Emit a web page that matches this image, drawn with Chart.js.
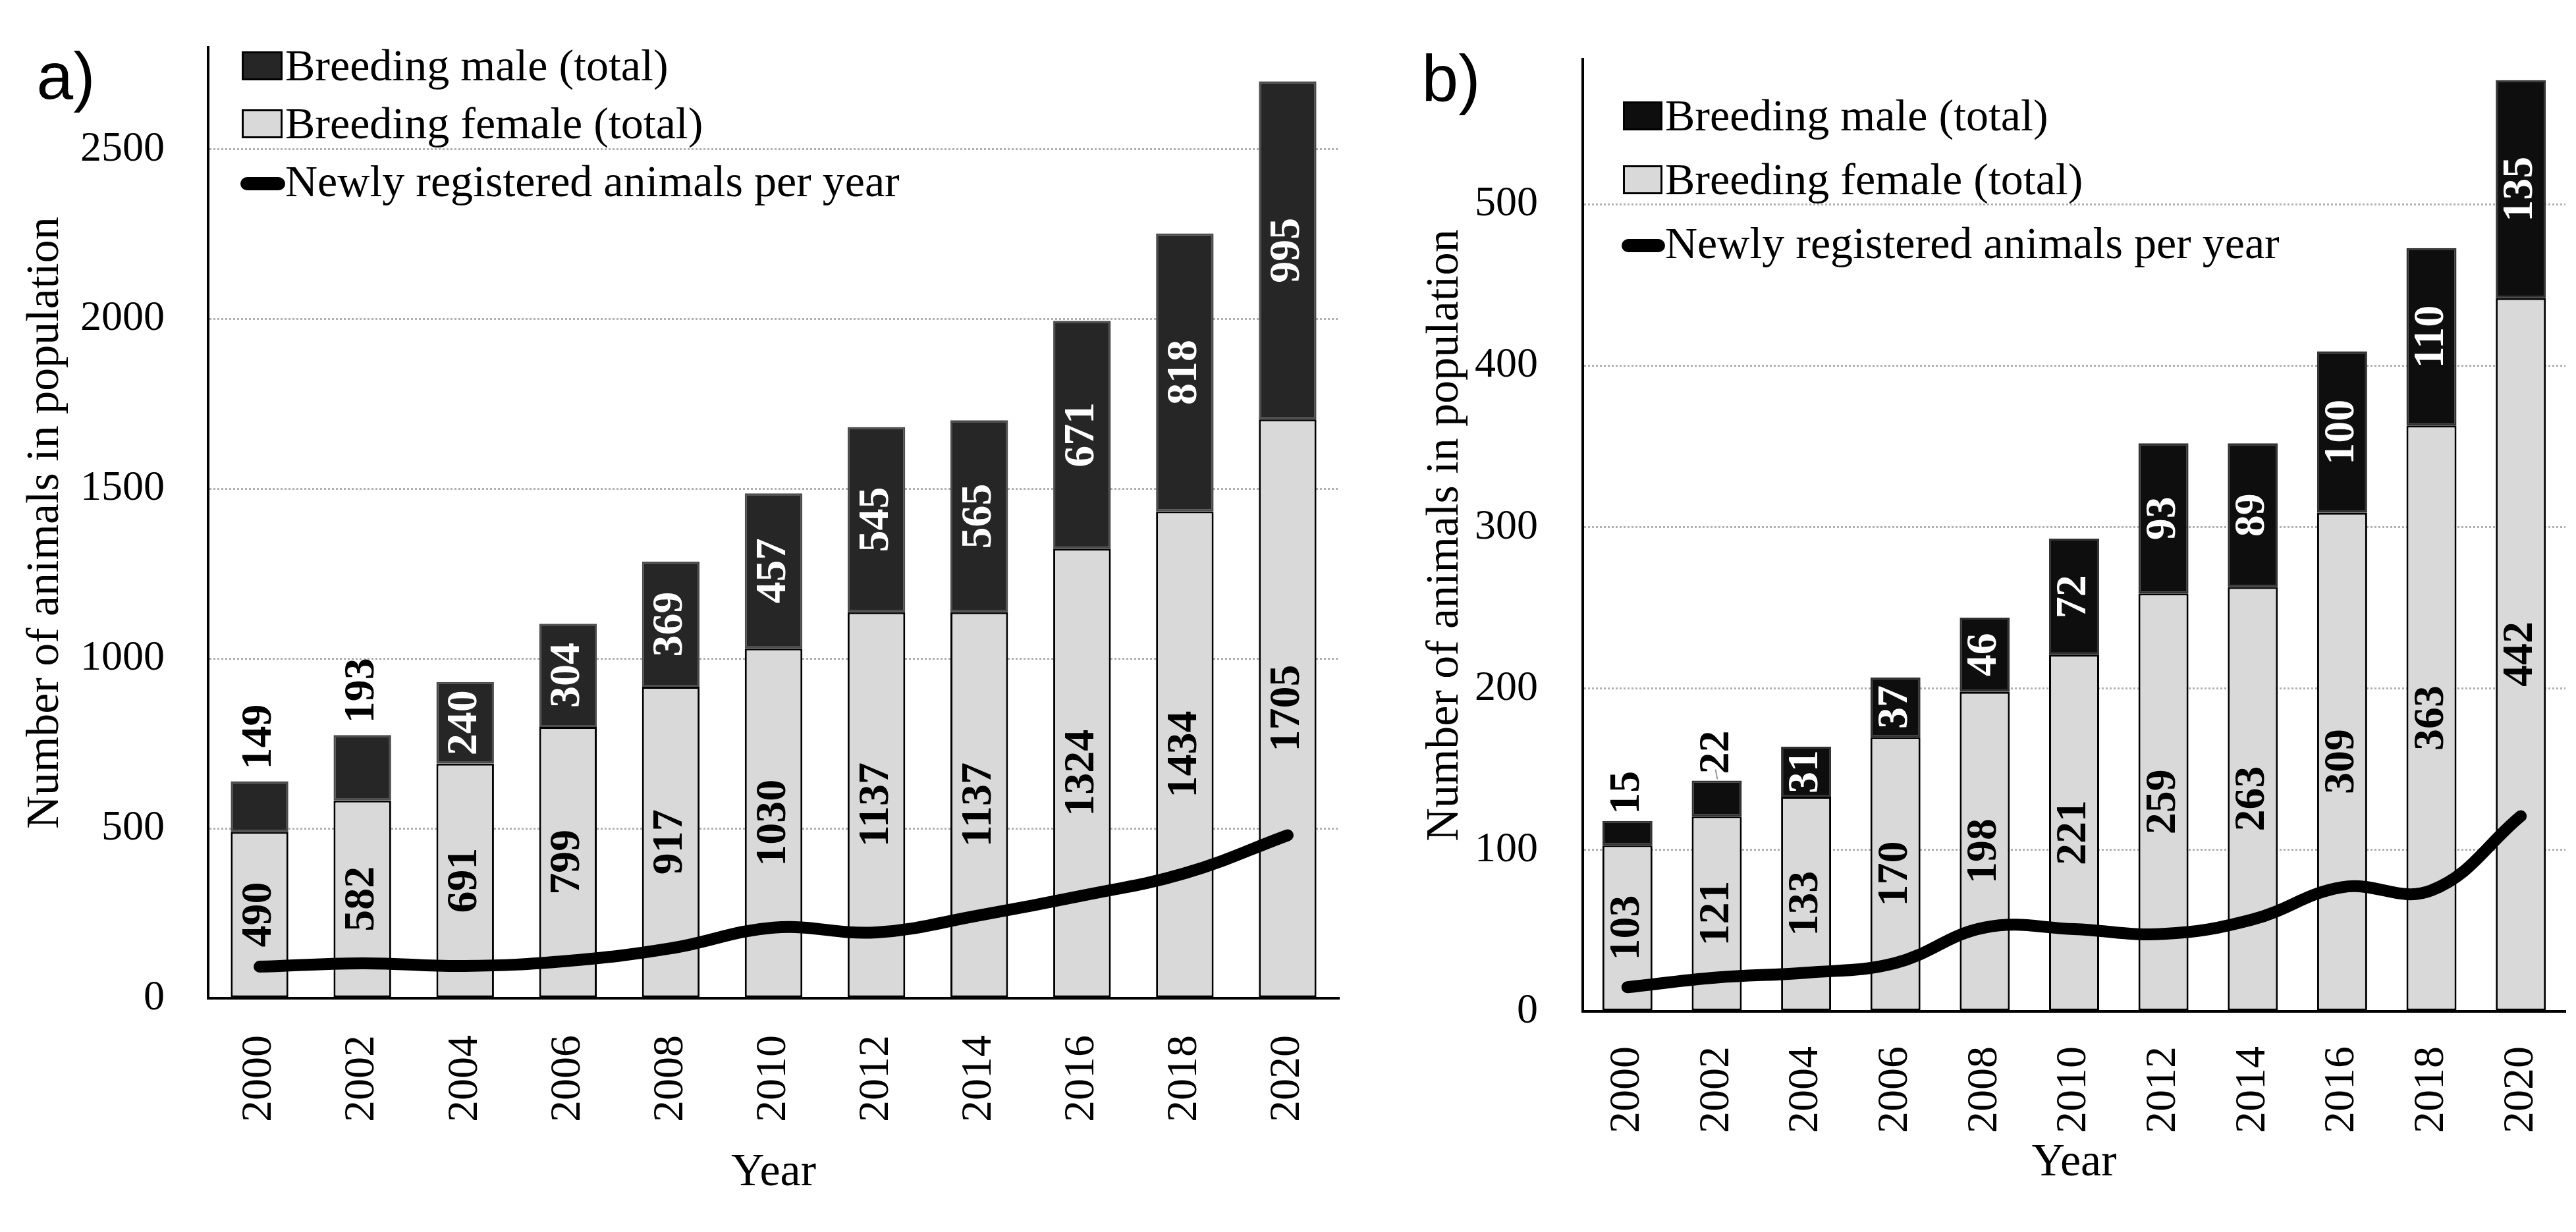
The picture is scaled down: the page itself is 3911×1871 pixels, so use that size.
<!DOCTYPE html>
<html>
<head>
<meta charset="utf-8">
<script src="https://cdn.jsdelivr.net/npm/chart.js@4.4.0/dist/chart.umd.min.js"></script>
<style>
    html, body { margin: 0; padding: 0; background: #fff; }
    body { width: 3911px; height: 1871px; position: relative; overflow: hidden; }
    .panel { position: absolute; top: 0; height: 1871px; }
    #panelA { left: 0; width: 2060px; }
    #panelB { left: 2090px; width: 1821px; }
</style>
</head>
<body>
<div class="panel" id="panelA"><canvas id="chartA"></canvas></div>
<div class="panel" id="panelB"><canvas id="chartB"></canvas></div>
<script>
const years = ['2000', '2002', '2004', '2006', '2008', '2010', '2012', '2014', '2016', '2018', '2020'];

// panel a
const femaleA = [490, 582, 691, 799, 917, 1030, 1137, 1137, 1324, 1434, 1705];
const maleA = [149, 193, 240, 304, 369, 457, 545, 565, 671, 818, 995];
const newA = [93, 103, 95, 110, 147, 208, 194, 244, 302, 368, 480];
const yTicksA = [0, 500, 1000, 1500, 2000, 2500];

// panel b
const femaleB = [103, 121, 133, 170, 198, 221, 259, 263, 309, 363, 442];
const maleB = [15, 22, 31, 37, 46, 72, 93, 89, 100, 110, 135];
const newB = [15, 21, 24, 30, 52, 51, 48, 57, 77, 75, 121];
const yTicksB = [0, 100, 200, 300, 400, 500];

const labelMale = 'Breeding male (total)';
const labelFemale = 'Breeding female (total)';
const labelNew = 'Newly registered animals per year';

Chart.defaults.font.family = '"Liberation Serif", "Times New Roman", serif';
Chart.defaults.color = '#000';

// value labels written sideways on the bars
const barLabels = {
    id: 'barLabels',
    afterDatasetsDraw(chart, args, opts) {
        const ctx = chart.ctx;
        ctx.save();
        ctx.font = opts.font;
        ctx.textBaseline = 'middle';
        chart.data.datasets.forEach((ds, di) => {
            if (ds.type === 'line') return;
            const meta = chart.getDatasetMeta(di);
            meta.data.forEach((bar, i) => {
                const outside = (ds.outside || []).includes(i);
                if ((ds.leader || []).includes(i)) {
                    ctx.strokeStyle = '#999';
                    ctx.lineWidth = 2;
                    ctx.beginPath();
                    ctx.moveTo(bar.x + 1, bar.y - 2);
                    ctx.lineTo(bar.x - 2, bar.y - 17);
                    ctx.stroke();
                }
                ctx.save();
                ctx.translate(bar.x, outside ? bar.y - opts.gap : (bar.y + bar.base) / 2);
                ctx.rotate(-Math.PI / 2);
                ctx.textAlign = outside ? 'left' : 'center';
                ctx.fillStyle = outside ? '#000' : ds.labelColor;
                ctx.fillText(String(ds.data[i]), 0, 0);
                ctx.restore();
            });
        });
        ctx.restore();
    }
};

// legend stacked in the top left of the plot, plus the panel letter
const sideLegend = {
    id: 'sideLegend',
    afterDraw(chart, args, opts) {
        const ctx = chart.ctx;
        ctx.save();
        ctx.font = opts.font;
        ctx.textBaseline = 'alphabetic';
        ctx.textAlign = 'left';
        opts.order.forEach((di, row) => {
            const ds = chart.data.datasets[di];
            const base = opts.top + row * opts.step;
            if (ds.type === 'line') {
                ctx.strokeStyle = ds.borderColor;
                ctx.lineWidth = 20;
                ctx.lineCap = 'round';
                ctx.beginPath();
                ctx.moveTo(opts.x + 8, base - 19);
                ctx.lineTo(opts.x + opts.box - 6, base - 19);
                ctx.stroke();
            } else {
                ctx.fillStyle = ds.backgroundColor;
                ctx.fillRect(opts.x, base - 44, opts.box, 44);
                ctx.strokeStyle = '#000';
                ctx.lineWidth = 3;
                ctx.strokeRect(opts.x + 1.5, base - 42.5, opts.box - 3, 41);
            }
            ctx.fillStyle = '#000';
            ctx.fillText(ds.label, opts.x + opts.box + 4, base);
        });
        ctx.font = opts.panelFont;
        ctx.textAlign = 'center';
        ctx.textBaseline = 'middle';
        ctx.fillText(opts.panel, opts.panelX, opts.panelY);
        ctx.restore();
    }
};

function makeChart(id, cfg) {
    const ctx = document.getElementById(id).getContext('2d');
    return new Chart(ctx, {
        type: 'bar',
        data: {
            labels: years,
            datasets: [{
                label: labelFemale,
                data: cfg.female,
                backgroundColor: '#d9d9d9',
                borderColor: '#000',
                borderWidth: 3,
                borderSkipped: false,
                labelColor: '#000',
                stack: 'pop',
                order: 1,
            }, {
                label: labelMale,
                data: cfg.male,
                backgroundColor: cfg.maleColor,
                borderColor: cfg.maleBorder,
                borderWidth: 3,
                borderSkipped: false,
                labelColor: '#fff',
                outside: [0, 1],
                leader: cfg.leader,
                stack: 'pop',
                order: 1,
            }, {
                type: 'line',
                label: labelNew,
                data: cfg.newReg,
                borderColor: '#000',
                borderWidth: 18,
                borderCapStyle: 'round',
                borderJoinStyle: 'round',
                tension: 0.4,
                pointRadius: 0,
                stack: 'line',
                order: 0,
            }],
        },
        options: {
            responsive: true,
            maintainAspectRatio: false,
            animation: false,
            devicePixelRatio: 1,
            layout: { padding: { top: cfg.top, right: cfg.right, left: 0, bottom: 0 } },
            datasets: { bar: { categoryPercentage: 1, barPercentage: 0.56 } },
            plugins: {
                legend: { display: false },
                tooltip: { enabled: false },
                barLabels: { font: 'bold 66px "Liberation Serif", serif', gap: cfg.gap },
                sideLegend: cfg.legend,
            },
            scales: {
                x: {
                    stacked: true,
                    grid: { display: false },
                    border: { display: true, color: '#000', width: 4 },
                    ticks: { minRotation: 90, maxRotation: 90, padding: cfg.xPad, font: { size: 66 } },
                    title: { display: true, text: 'Year', font: { size: 70 }, padding: { top: 0, bottom: cfg.xTitlePad } },
                    afterFit: (s) => {
                        s.height = cfg.xHeight;
                        s.paddingLeft = 0;
                        s.paddingRight = 0;
                    },
                },
                y: {
                    stacked: true,
                    min: 0,
                    max: cfg.max,
                    afterBuildTicks: (ax) => { ax.ticks = cfg.ticks.map((v) => ({ value: v })); },
                    grid: {
                        drawTicks: false,
                        lineWidth: 3,
                        color: (c) => (c.tick && c.tick.value === 0 ? 'rgba(0,0,0,0)' : '#b0b0b0'),
                    },
                    border: { display: true, color: '#000', width: 4, dash: [3, 3] },
                    ticks: { padding: cfg.yPad, font: { size: 64 }, callback: (v) => String(v) },
                    title: {
                        display: true,
                        text: 'Number of animals in population',
                        font: { size: 70 },
                        padding: { top: cfg.yTitlePad, bottom: 0 },
                    },
                    afterFit: (s) => {
                        s.width = cfg.yWidth;
                        s.paddingTop = 0;
                        s.paddingBottom = 0;
                    },
                },
            },
        },
        plugins: [barLabels, sideLegend],
    });
}

(function initializeChartA() {
    makeChart('chartA', {
        female: femaleA, male: maleA, newReg: newA, ticks: yTicksA, max: 2800,
        maleColor: '#262626', maleBorder: '#4d4d4d', leader: [],
        top: 72, right: 27, yWidth: 316, xHeight: 355,
        yPad: 66, yTitlePad: 28, xPad: 48, xTitlePad: 47, gap: 18,
        legend: {
            font: '68px "Liberation Serif", serif', order: [1, 0, 2],
            x: 367, box: 62, top: 122, step: 88,
            panel: 'a)', panelFont: '100px "Liberation Sans", sans-serif', panelX: 100, panelY: 122,
        },
    });
})();

(function initializeChartB() {
    makeChart('chartB', {
        female: femaleB, male: maleB, newReg: newB, ticks: yTicksB, max: 590,
        maleColor: '#0e0e0e', maleBorder: '#333', leader: [1],
        top: 90, right: 16, yWidth: 313, xHeight: 335,
        yPad: 68, yTitlePad: 63, xPad: 45, xTitlePad: 62, gap: 10,
        legend: {
            font: '68px "Liberation Serif", serif', order: [1, 0, 2],
            x: 374, box: 60, top: 198, step: 97,
            panel: 'b)', panelFont: '100px "Liberation Sans", sans-serif', panelX: 113, panelY: 126,
        },
    });
})();
</script>
</body>
</html>
